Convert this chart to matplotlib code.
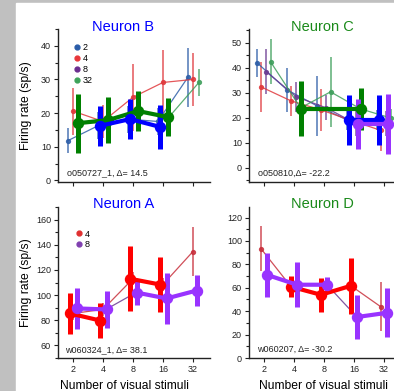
import numpy as np
import matplotlib.pyplot as plt
from matplotlib.lines import Line2D
from matplotlib.ticker import MultipleLocator, FixedLocator, NullFormatter, NullLocator

plt.rcParams['font.family'] = ['Liberation Sans', 'DejaVu Sans']

stim = [2, 4, 8, 16, 32]

# Neuron B (top left)
b_blue_thin = [11.8, 16.2, 18.2, 17.5, 30.6]
b_blue_thin_err = [3.8, 4, 4, 4, 8.7]
b_red_thin = [20.6, 17.5, 24.7, 29.1, 30.0]
b_red_thin_err = [7, 5, 10, 9.8, 8]
b_green_thin = [17.0, 17.9, 20.6, 18.8, 29.1]
b_green_thin_err = [4, 4, 4, 4, 4]
b_green_x = [2, 4, 8, 16]
b_green = [17.0, 17.9, 20.6, 18.8]
b_green_err = [8.8, 6.8, 6.0, 5.6]
b_blue_x = [4, 8, 16]
b_blue = [16.2, 18.2, 15.9]
b_blue_err = [6.0, 6.0, 6.6]

# Neuron C (top right)
c_blue_thin = [42, 31.2, 24.8, 19.2, 19.2]
c_blue_thin_err = [5.6, 8.8, 12, 4, 4]
c_red_thin = [32.4, 26.8, 23.2, 19, 15.0]
c_red_thin_err = [10, 6, 8.5, 5, 8.4]
c_purple_thin = [38.4, 28.4, 24, 17.6, 17.6]
c_purple_thin_err = [9, 6, 5, 5, 5]
c_green_thin = [42.4, 24, 30.4, 23.6, 20]
c_green_thin_err = [9, 5, 14, 5, 3.5]
c_green_x = [4, 16]
c_green = [23.6, 23.6]
c_green_err = [11, 8.5]
c_blue_x = [16, 32]
c_blue = [19.2, 19.2]
c_blue_err = [10, 10]
c_purple_x = [16, 32]
c_purple = [17.6, 17.6]
c_purple_err = [10, 12]

# Neuron A (bottom left)
a_red_thin = [85.4, 88.6, 113, 108.4, 134.6]
a_red_thin_err = [5, 5, 5, 5, 19.5]
a_purple_thin = [89.4, 88.6, 102, 97.3, 103.6]
a_purple_thin_err = [5, 5, 5, 5, 5]
a_red_x = [2, 4, np.nan, 8, 16]
a_red = [85.4, 79.8, np.nan, 113, 108.4]
a_red_err = [16, 14, np.nan, 26, 22]
a_purple_x = [2, 4, np.nan, 8, 16, 32]
a_purple = [89.4, 88.6, np.nan, 102, 97.3, 103.6]
a_purple_err = [16, 15, np.nan, 10, 20, 12]

# Neuron D (bottom right)
d_red_thin = [93.4, 61, 54, 61.7, 43.7]
d_red_thin_err = [19, 5, 5, 5, 21]
d_purple_thin = [71, 62.6, 62.6, 35, 38.6]
d_purple_thin_err = [5, 5, 5, 5, 5]
d_red_x = [4, 8, 16]
d_red = [60.9, 54, 61.7]
d_red_err = [9, 14.6, 24]
d_purple_x = [2, 4, 8, np.nan, 16, 32]
d_purple = [71, 62.6, 62.6, np.nan, 35, 38.6]
d_purple_err = [19, 19, 7, np.nan, 19, 21]

BLUE, GREEN, RED, PURPLE = '#0000ff', '#008000', '#ff0000', '#9933ff'
T_BLUE, T_RED, T_PURPLE, T_GREEN = '#2f5fa8', '#e0393d', '#6b3a92', '#3f9f5c'


def thin(ax, y, err, color, off):
    x = np.array(stim, float) * 2 ** off
    ax.errorbar(x, y, yerr=err, color=color, lw=0.9, marker='o', ms=2.8,
                elinewidth=1.1, capsize=0, alpha=0.85, zorder=2)


def thick(ax, x, y, err, color, off):
    x = np.array(x, float) * 2 ** off
    ax.errorbar(x, y, yerr=err, color=color, lw=3.0, marker='o', ms=7.2,
                elinewidth=3.6, capsize=0, zorder=3)


fig = plt.figure(figsize=(3.94, 3.91), dpi=100)
fig.patch.set_facecolor('#c0c0c0')
fig.add_artist(plt.Rectangle((16 / 394, 0), 1, 388 / 391, transform=fig.transFigure,
                             color='white', zorder=-1))

W = 152 / 394
axB = fig.add_axes([58 / 394, 209 / 391, W, 153 / 391])
axC = fig.add_axes([249 / 394, 209 / 391, W, 153 / 391])
axA = fig.add_axes([58 / 394, 33 / 391, W, 151 / 391])
axD = fig.add_axes([249 / 394, 33 / 391, W, 151 / 391])

for ax in (axA, axB, axC, axD):
    ax.set_facecolor('none')
    ax.set_xscale('log', base=2)
    ax.set_xlim(2 ** 0.5, 2 ** 5.57)
    ax.xaxis.set_major_locator(FixedLocator(stim))
    ax.xaxis.set_minor_locator(NullLocator())
    ax.spines['top'].set_visible(False)
    ax.spines['right'].set_visible(False)
    for s in ('left', 'bottom'):
        ax.spines[s].set_linewidth(1.0)
        ax.spines[s].set_color('#222222')
    ax.tick_params(which='both', direction='out', length=3, width=0.8,
                   labelsize=6.5, colors='#222222', pad=2)
    ax.tick_params(which='minor', length=2)

for ax in (axB, axC):
    ax.xaxis.set_major_formatter(NullFormatter())
for ax in (axA, axD):
    ax.set_xticklabels([str(s) for s in stim])

# Neuron B
thin(axB, b_blue_thin, b_blue_thin_err, T_BLUE, -0.17)
thin(axB, b_red_thin, b_red_thin_err, T_RED, 0.0)
thin(axB, b_green_thin, b_green_thin_err, T_GREEN, 0.2)
thick(axB, b_green_x, b_green, b_green_err, GREEN, 0.17)
thick(axB, b_blue_x, b_blue, b_blue_err, BLUE, -0.1)
axB.set_ylim(-0.5, 45)
axB.yaxis.set_major_locator(MultipleLocator(10))
axB.yaxis.set_minor_locator(MultipleLocator(5))

# Neuron C
thin(axC, c_blue_thin, c_blue_thin_err, T_BLUE, -0.23)
thin(axC, c_red_thin, c_red_thin_err, T_RED, -0.1)
thin(axC, c_purple_thin, c_purple_thin_err, T_PURPLE, 0.08)
thin(axC, c_green_thin, c_green_thin_err, T_GREEN, 0.22)
thick(axC, c_green_x, c_green, c_green_err, GREEN, 0.25)
thick(axC, c_blue_x, c_blue, c_blue_err, BLUE, -0.18)
thick(axC, c_purple_x, c_purple, c_purple_err, PURPLE, 0.12)
axC.set_ylim(-5.6, 55.5)
axC.yaxis.set_major_locator(MultipleLocator(10))
axC.yaxis.set_minor_locator(MultipleLocator(5))

# Neuron A
thin(axA, a_red_thin, a_red_thin_err, '#c8303c', 0.0)
thin(axA, a_purple_thin, a_purple_thin_err, T_PURPLE, 0.1)
thick(axA, a_red_x, a_red, a_red_err, RED, -0.1)
thick(axA, a_purple_x, a_purple, a_purple_err, PURPLE, 0.12)
axA.set_ylim(50, 170)
axA.yaxis.set_major_locator(MultipleLocator(20))
axA.yaxis.set_minor_locator(MultipleLocator(10))

# Neuron D
thin(axD, d_red_thin, d_red_thin_err, '#c8303c', -0.1)
thin(axD, d_purple_thin, d_purple_thin_err, T_PURPLE, 0.1)
thick(axD, d_red_x, d_red, d_red_err, RED, -0.1)
thick(axD, d_purple_x, d_purple, d_purple_err, PURPLE, 0.1)
axD.set_ylim(0, 129)
axD.yaxis.set_major_locator(MultipleLocator(20))
axD.yaxis.set_minor_locator(MultipleLocator(10))

titles = [(axB, 'Neuron B', BLUE, 0.43, 1.013), (axC, 'Neuron C', '#1a8a1a', 0.48, 1.013),
          (axA, 'Neuron A', BLUE, 0.43, 1.02), (axD, 'Neuron D', '#1a8a1a', 0.48, 1.02)]
for ax, t, c, x, y in titles:
    ax.text(x, y, t, color=c, fontsize=10.5, ha='center', va='center', transform=ax.transAxes)

notes = [(axB, 'o050727_1, Δ= 14.5', 0.06, 0.06), (axC, 'o050810,Δ= -22.2', 0.06, 0.06),
         (axA, 'w060324_1, Δ= 38.1', 0.045, 0.055), (axD, 'w060207, Δ= -30.2', 0.05, 0.055)]
for ax, t, x, y in notes:
    ax.text(x, y, t, fontsize=6.5, color='#222222', ha='left', va='center', transform=ax.transAxes)

for ax in (axB, axA):
    ax.set_ylabel('Firing rate (sp/s)', fontsize=8.7)
    ax.yaxis.set_label_coords(-0.17, 0.5)
for ax, x in ((axA, 0.44), (axD, 0.49)):
    ax.set_xlabel('Number of visual stimuli', fontsize=8.7)
    ax.xaxis.set_label_coords(x, -0.145)

# legends
hB = [Line2D([], [], ls='none', marker='o', ms=3.5, color=c)
      for c in ('#2a5ca8', '#e8363a', '#6b2d8f', '#3ea35a')]
axB.legend(hB, ['2', '4', '8', '32'], loc='upper left', bbox_to_anchor=(0.08, 0.935),
           frameon=False, fontsize=6.5, handlelength=0.6, handletextpad=0.3,
           labelspacing=0.2, borderpad=0)
hA = [Line2D([], [], ls='none', marker='o', ms=3.5, color=c) for c in ('#e03030', '#8040b0')]
axA.legend(hA, ['4', '8'], loc='upper left', bbox_to_anchor=(0.09, 0.88),
           frameon=False, fontsize=6.5, handlelength=0.6, handletextpad=0.3,
           labelspacing=0.2, borderpad=0)

fig.savefig('out.png', dpi=100)
